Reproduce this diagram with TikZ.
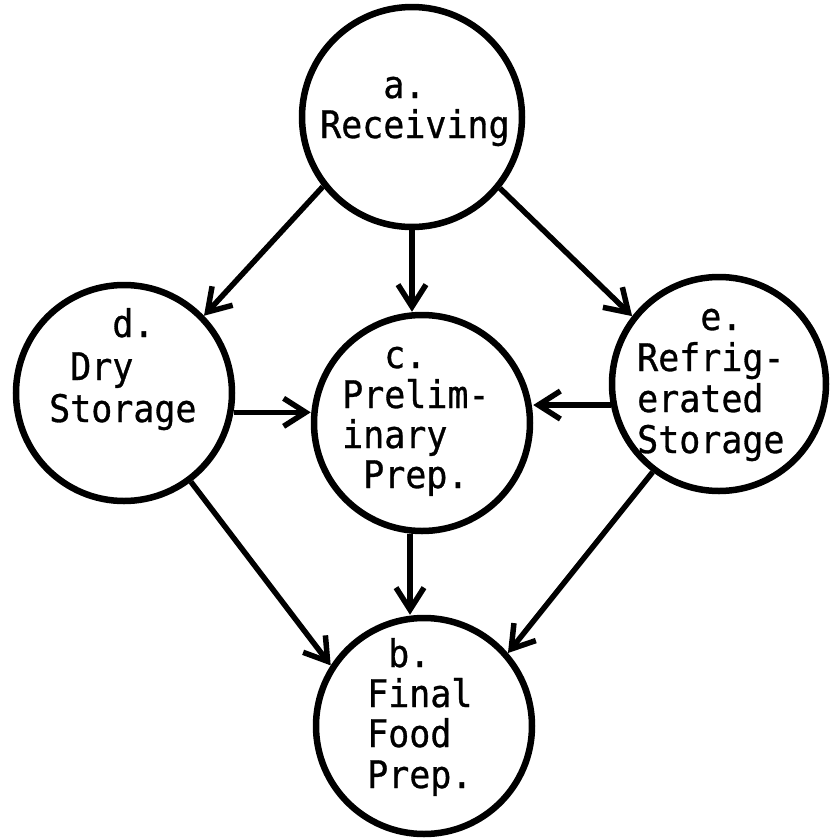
\documentclass[tikz,border=0pt]{standalone}
\usepackage{fontspec}
\newfontfamily\typefont[FakeStretch=0.92,FakeBold=0.8]{DejaVu Sans Mono}
\usetikzlibrary{arrows.meta}
\begin{document}
\begin{tikzpicture}[x=1pt,y=-1pt,
  stage/.style={circle,draw,line width=6.5pt,minimum size=216pt,inner sep=0pt},
  flow/.style={line width=5.5pt,-{Straight Barb[length=22pt,width=28pt]}},
  txt/.style={anchor=base west,inner sep=0pt,font=\typefont\fontsize{38}{40}\selectfont}]
\useasboundingbox (0,0) rectangle (838,839);

% stations
\node[stage,minimum size=220pt] (a) at (412,117) {};
\node[stage] (d) at (124,393) {};
\node[stage] (c) at (422,423) {};
\node[stage,minimum size=214pt] (e) at (719,384) {};
\node[stage] (b) at (424,726) {};

% typed labels, one node per line (monospaced columns)
\node[txt] (a1) at (320,98)  {\phantom{aaa}a.};
\node[txt] (a2) at (320,138) {Receiving};

\node[txt] (d1) at (49,337) {\phantom{aaa}d.};
\node[txt] (d2) at (49,380) {\phantom{a}Dry};
\node[txt] (d3) at (49,422) {Storage};

\node[txt] (c1) at (342,368) {\phantom{aa}c.};
\node[txt] (c2) at (342,408) {Prelim-};
\node[txt] (c3) at (342,448) {inary};
\node[txt] (c4) at (342,488) {\phantom{a}Prep.};

\node[txt] (e1) at (637,330) {\phantom{aaa}e.};
\node[txt] (e2) at (637,371) {Refrig-};
\node[txt] (e3) at (637,412) {erated};
\node[txt] (e4) at (637,453) {Storage};

\node[txt] (b1) at (367,667) {\phantom{a}b.};
\node[txt] (b2) at (367,707) {Final};
\node[txt] (b3) at (367,747) {Food};
\node[txt] (b4) at (367,788) {Prep.};

% material flow
\draw[flow] (a.-142) -- (d.44);
\draw[flow] (a.south) -- (a.south |- c.north);
\draw[flow] (a.-39) -- (e.142);
\draw[flow] (d.-10) -- (d.-10 -| c.west);
\draw[flow] (e.-169) -- (e.-169 -| c.east);
\draw[flow] (d.-53) -- (b.147);
\draw[flow] ([xshift=-12pt]c.south) -- ([xshift=-12pt]c.south |- b.north);
\draw[flow] (e.-127) -- (b.41);
\end{tikzpicture}
\end{document}
